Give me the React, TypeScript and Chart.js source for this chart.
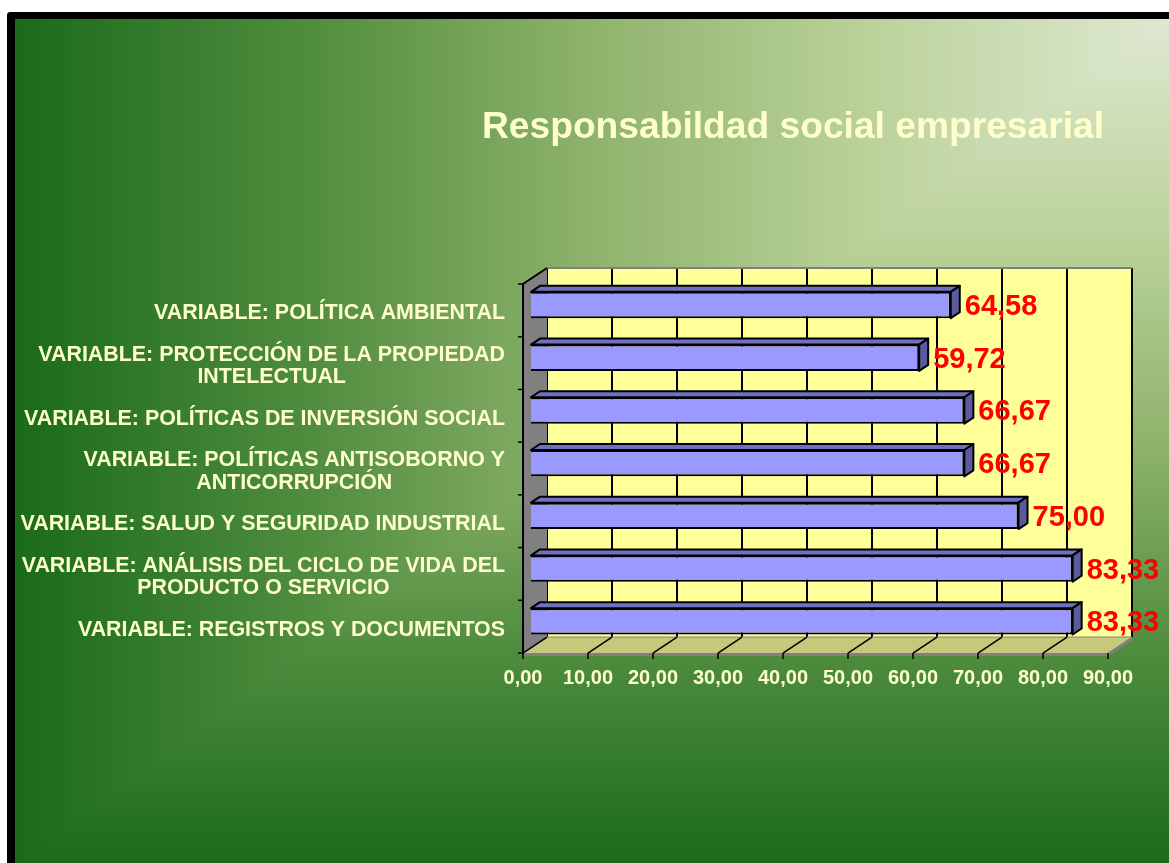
import React, { useEffect, useRef } from 'react';
import { Chart, registerables } from 'chart.js';

Chart.register(...registerables);

const TITLE = 'Responsabildad social empresarial';

const categories: string[][] = [
  ['VARIABLE: POLÍTICA AMBIENTAL'],
  ['VARIABLE: PROTECCIÓN DE LA PROPIEDAD', 'INTELECTUAL'],
  ['VARIABLE: POLÍTICAS DE INVERSIÓN SOCIAL'],
  ['VARIABLE: POLÍTICAS ANTISOBORNO Y', 'ANTICORRUPCIÓN'],
  ['VARIABLE: SALUD Y SEGURIDAD INDUSTRIAL'],
  ['VARIABLE: ANÁLISIS DEL CICLO DE VIDA DEL', 'PRODUCTO O SERVICIO'],
  ['VARIABLE: REGISTROS Y DOCUMENTOS'],
];

const values: number[] = [64.58, 59.72, 66.67, 66.67, 75.0, 83.33, 83.33];
const valueLabels: string[] = ['64,58', '59,72', '66,67', '66,67', '75,00', '83,33', '83,33'];
const xTickLabels: string[] = ['0,00', '10,00', '20,00', '30,00', '40,00', '50,00', '60,00', '70,00', '80,00', '90,00'];

const FONT = "'Liberation Sans', Arial, sans-serif";
const TEXT_COLOR = '#ffffcc';
const DEPTH = { dx: 24, dy: -16 };
const BAR_FRONT = 1 / 3;
const BAR_DEPTH = 0.375;

const BG_STOPS: [number, number[]][] = [
  [0, [223, 232, 210]],
  [0.25, [188, 211, 156]],
  [0.5, [143, 179, 108]],
  [0.75, [79, 140, 62]],
  [1, [26, 107, 24]],
];

function bgColor(t: number): string {
  for (let i = 1; i < BG_STOPS.length; i++) {
    const [t1, c1] = BG_STOPS[i];
    const [t0, c0] = BG_STOPS[i - 1];
    if (t <= t1) {
      const u = (t - t0) / (t1 - t0);
      const c = c0.map((v, k) => Math.round(v + (c1[k] - v) * u));
      return `rgb(${c[0]},${c[1]},${c[2]})`;
    }
  }
  const c = BG_STOPS[BG_STOPS.length - 1][1];
  return `rgb(${c[0]},${c[1]},${c[2]})`;
}

const threeD = {
  id: 'threeD',
  beforeDraw(chart: any) {
    const { ctx, width, height } = chart;
    ctx.save();
    const N = 400;
    for (let k = N; k >= 0; k--) {
      const t = k / N;
      ctx.fillStyle = bgColor(t);
      const x0 = Math.floor(width * (1 - t));
      ctx.fillRect(x0, 0, width - x0, Math.ceil(height * t) + 1);
    }
    ctx.restore();
  },
  beforeDatasetsDraw(chart: any) {
    const { ctx, chartArea: ca, scales } = chart;
    const xs = scales.x;
    const ys = scales.y;
    const fx = -BAR_FRONT * DEPTH.dx, fy = -BAR_FRONT * DEPTH.dy;
    const bx = (1 - BAR_FRONT) * DEPTH.dx, by = (1 - BAR_FRONT) * DEPTH.dy;
    ctx.save();
    // back wall
    ctx.fillStyle = '#ffff99';
    ctx.fillRect(ca.left + bx, ca.top + by, ca.right - ca.left, ca.bottom - ca.top);
    // back wall gridlines
    const tickVals: number[] = xs.ticks.map((t: any) => t.value);
    ctx.strokeStyle = '#000';
    ctx.lineWidth = 2;
    tickVals.forEach((v) => {
      const x = xs.getPixelForValue(v);
      ctx.beginPath();
      ctx.moveTo(x + bx, ca.top + by);
      ctx.lineTo(x + bx, ca.bottom + by);
      ctx.stroke();
    });
    // back wall top edge
    ctx.strokeStyle = '#808080';
    ctx.lineWidth = 2;
    ctx.beginPath();
    ctx.moveTo(ca.left + bx, ca.top + by);
    ctx.lineTo(ca.right + bx, ca.top + by);
    ctx.stroke();
    // left wall
    ctx.fillStyle = '#808080';
    ctx.beginPath();
    ctx.moveTo(ca.left + fx, ca.top + fy);
    ctx.lineTo(ca.left + bx, ca.top + by);
    ctx.lineTo(ca.left + bx, ca.bottom + by);
    ctx.lineTo(ca.left + fx, ca.bottom + fy);
    ctx.closePath();
    ctx.fill();
    // floor
    ctx.fillStyle = '#c8c87c';
    ctx.beginPath();
    ctx.moveTo(ca.left + fx, ca.bottom + fy);
    ctx.lineTo(ca.left + bx, ca.bottom + by);
    ctx.lineTo(ca.right + bx, ca.bottom + by);
    ctx.lineTo(ca.right + fx, ca.bottom + fy);
    ctx.closePath();
    ctx.fill();
    // floor front edge (gray) and right edge
    ctx.strokeStyle = '#808080';
    ctx.lineWidth = 3;
    ctx.beginPath();
    ctx.moveTo(ca.left + fx, ca.bottom + fy + 1.5);
    ctx.lineTo(ca.right + fx, ca.bottom + fy + 1.5);
    ctx.lineTo(ca.right + bx, ca.bottom + by + 1.5);
    ctx.stroke();
    ctx.lineWidth = 1;
    ctx.beginPath();
    ctx.moveTo(ca.left + bx, ca.bottom + by);
    ctx.lineTo(ca.right + bx, ca.bottom + by);
    ctx.stroke();
    // floor gridlines
    ctx.strokeStyle = '#000';
    ctx.lineWidth = 1.5;
    tickVals.forEach((v, i) => {
      if (i === tickVals.length - 1) return;
      const x = xs.getPixelForValue(v);
      ctx.beginPath();
      ctx.moveTo(x + fx, ca.bottom + fy);
      ctx.lineTo(x + bx, ca.bottom + by);
      ctx.stroke();
    });
    // left wall edges
    ctx.lineWidth = 2;
    ctx.beginPath();
    ctx.moveTo(ca.left + bx, ca.top + by);
    ctx.lineTo(ca.left + fx, ca.top + fy);
    ctx.lineTo(ca.left + fx, ca.bottom + fy);
    ctx.stroke();
    // x tick marks
    ctx.lineWidth = 1.5;
    tickVals.forEach((v) => {
      const x = xs.getPixelForValue(v) + fx;
      ctx.beginPath();
      ctx.moveTo(x, ca.bottom + fy);
      ctx.lineTo(x, ca.bottom + fy + 6);
      ctx.stroke();
    });
    // y tick marks at category boundaries
    const band = ys.getPixelForValue(1) - ys.getPixelForValue(0);
    for (let i = 0; i <= categories.length; i++) {
      const y = ys.getPixelForValue(0) - band / 2 + i * band + fy;
      ctx.beginPath();
      ctx.moveTo(ca.left + fx - 5, y);
      ctx.lineTo(ca.left + fx, y);
      ctx.stroke();
    }
    ctx.restore();
  },
  afterDatasetsDraw(chart: any) {
    const { ctx } = chart;
    const meta = chart.getDatasetMeta(0);
    const bdx = BAR_DEPTH * DEPTH.dx, bdy = BAR_DEPTH * DEPTH.dy;
    ctx.save();
    ctx.lineJoin = 'round';
    meta.data.forEach((bar: any, i: number) => {
      const { x, y, base, height } = bar.getProps(['x', 'y', 'base', 'height'], true);
      const left = base, right = x, top = y - height / 2, bottom = y + height / 2;
      ctx.lineWidth = 2;
      ctx.strokeStyle = '#000';
      // top face
      ctx.fillStyle = '#7070c0';
      ctx.beginPath();
      ctx.moveTo(left, top);
      ctx.lineTo(left + bdx, top + bdy);
      ctx.lineTo(right + bdx, top + bdy);
      ctx.lineTo(right, top);
      ctx.closePath();
      ctx.fill();
      ctx.stroke();
      // side face
      ctx.fillStyle = '#5a5a9f';
      ctx.beginPath();
      ctx.moveTo(right, top);
      ctx.lineTo(right + bdx, top + bdy);
      ctx.lineTo(right + bdx, bottom + bdy);
      ctx.lineTo(right, bottom);
      ctx.closePath();
      ctx.fill();
      ctx.stroke();
      // value label
      ctx.fillStyle = '#ff0000';
      ctx.font = `bold 29px ${FONT}`;
      ctx.textAlign = 'left';
      ctx.textBaseline = 'middle';
      ctx.fillText(valueLabels[i], right + 14, y + 2);
    });
    ctx.restore();
  },
  afterDraw(chart: any) {
    const { ctx, chartArea: ca, scales } = chart;
    const ys = scales.y;
    const fx = -BAR_FRONT * DEPTH.dx, fy = -BAR_FRONT * DEPTH.dy;
    ctx.save();
    ctx.fillStyle = TEXT_COLOR;
    ctx.font = `bold 21.4px ${FONT}`;
    ctx.textBaseline = 'middle';
    ctx.textAlign = 'center';
    const lineH = 22.5;
    categories.forEach((lines, i) => {
      const cy = ys.getPixelForValue(i) + fy + 3;
      const blockW = Math.max(...lines.map((l) => ctx.measureText(l).width));
      const rightX = ca.left + fx - 18;
      const cx = rightX - blockW / 2;
      lines.forEach((l, j) => {
        ctx.fillText(l, cx, cy + (j - (lines.length - 1) / 2) * lineH);
      });
    });
    // title
    ctx.font = `bold 37.2px ${FONT}`;
    ctx.textBaseline = 'alphabetic';
    ctx.textAlign = 'center';
    ctx.fillText(TITLE, 778, 119);
    ctx.restore();
  },
};

export default function App() {
  const ref = useRef<HTMLCanvasElement | null>(null);
  useEffect(() => {
    if (!ref.current) return;
    const chart = new Chart(ref.current, {
      type: 'bar',
      data: {
        labels: categories,
        datasets: [
          {
            data: values,
            backgroundColor: '#9999ff',
            borderColor: '#000000',
            borderWidth: 2,
            barPercentage: 0.5,
            categoryPercentage: 1,
          },
        ],
      },
      options: {
        indexAxis: 'y',
        responsive: false,
        animation: false,
        layout: { padding: { top: 259.67, right: 53, bottom: 844 - 628.67 - 50, left: 0 } },
        plugins: { legend: { display: false }, tooltip: { enabled: false }, title: { display: false } },
        scales: {
          x: {
            type: 'linear',
            min: 0,
            max: 90,
            grid: { display: false, drawTicks: false },
            border: { display: false },
            ticks: {
              stepSize: 10,
              autoSkip: false,
              maxRotation: 0,
              labelOffset: -8,
              padding: 19,
              color: TEXT_COLOR,
              font: { family: FONT, size: 20, weight: 'bold' },
              callback: (_v: any, i: number) => xTickLabels[i],
            },
            afterFit: (s: any) => { s.height = 50; },
          },
          y: {
            type: 'category',
            grid: { display: false, drawTicks: false },
            border: { display: false },
            ticks: { display: false },
            afterFit: (s: any) => { s.width = 516; },
          },
        },
      },
      plugins: [threeD],
    } as any);
    return () => chart.destroy();
  }, []);
  return (
    <div
      style={{
        position: 'fixed',
        left: 7,
        top: 12,
        width: 1162,
        height: 851,
        borderTop: '7px solid #000',
        borderLeft: '8px solid #000',
        borderTopLeftRadius: 4,
        boxSizing: 'border-box',
        overflow: 'hidden',
      }}
    >
      <canvas ref={ref} width={1154} height={844} style={{ display: 'block' }} />
    </div>
  );
}
